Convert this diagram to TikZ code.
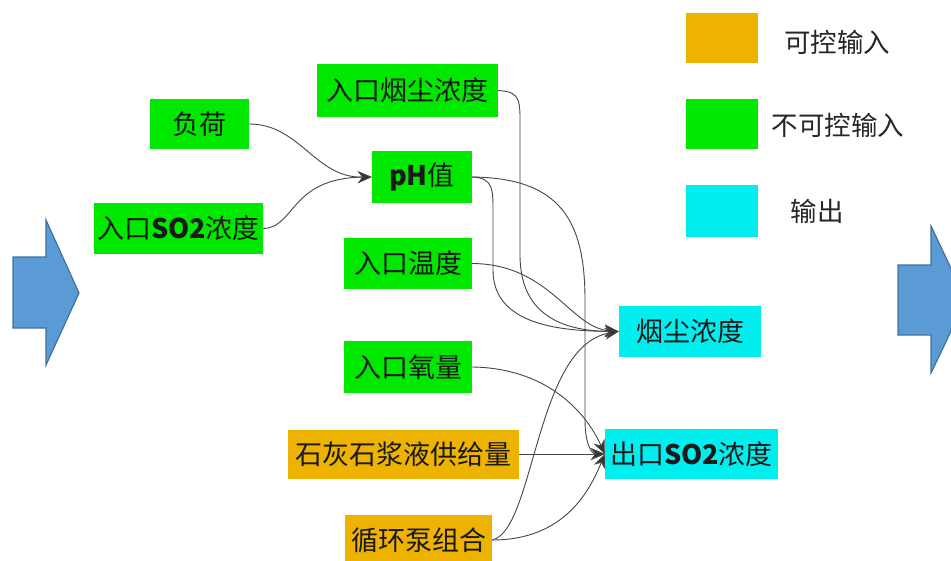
\documentclass[tikz,border=0pt]{standalone}
\usepackage{fontspec}
\setmainfont{Noto Sans CJK SC}
\usetikzlibrary{arrows.meta}
\definecolor{gin}{RGB}{0,232,0}
\definecolor{oin}{RGB}{238,178,0}
\definecolor{cout}{RGB}{0,238,238}
\definecolor{bluefill}{RGB}{91,155,213}
\definecolor{blueedge}{RGB}{65,113,156}
\definecolor{lnc}{RGB}{70,70,70}
\tikzset{
  box/.style={inner sep=0pt, text=black!90, font=\fontsize{27}{27}\selectfont},
  gbox/.style={box, fill=gin},
  obox/.style={box, fill=oin},
  cbox/.style={box, fill=cout},
  lbl/.style={inner sep=0pt, text=black!85, font=\fontsize{26.5}{26.5}\selectfont},
  conn/.style={draw=lnc, line width=0.9pt, -{Stealth[length=14pt,width=12pt,fill=black!80]}},
  bigarrow/.style={fill=bluefill, draw=blueedge, line width=1.2pt, line join=miter},
}
\begin{document}
\begin{tikzpicture}[x=1pt,y=-1pt]
\clip (0,0) rectangle (951,560);
\fill[white] (0,0) rectangle (951,560);
% big blue arrows
\draw[bigarrow] (13,257) -- (46,257) -- (46,220) -- (79,293) -- (46,365) -- (46,328) -- (13,328) -- cycle;
\draw[bigarrow] (898,265) -- (931,265) -- (931,226) -- (966,300) -- (931,373) -- (931,335) -- (898,335) -- cycle;
% legend
\node[obox, minimum width=72pt, minimum height=50pt] (lo) at (722,38) {};
\node[gbox, minimum width=72pt, minimum height=50pt] (lg) at (722,124) {};
\node[cbox, minimum width=72pt, minimum height=52pt] (lc) at (722,211) {};
\node[lbl] (tlo) at (837,42) {可控输入};
\node[lbl] (tlg) at (838,125) {不可控输入};
\node[lbl] (tlc) at (817,211) {输出};
% nodes
\node[gbox, minimum width=99pt, minimum height=50pt] (fh) at (199.5,124) {负荷};
\node[gbox, minimum width=169pt, minimum height=51pt] (so2in) at (178.5,228.5) {入口{\bfseries SO2}浓度};
\node[gbox, minimum width=181pt, minimum height=53pt] (dust) at (407.5,90.5) {入口烟尘浓度};
\node[gbox, minimum width=100pt, minimum height=52pt] (ph) at (422,177) {{\bfseries pH}值};
\node[gbox, minimum width=128pt, minimum height=51pt] (temp) at (408,263.5) {入口温度};
\node[gbox, minimum width=128pt, minimum height=52pt] (oxy) at (408,367) {入口氧量};
\node[obox, minimum width=231pt, minimum height=49pt] (lime) at (403.5,454) {石灰石浆液供给量};
\node[obox, minimum width=147pt, minimum height=50pt] (pump) at (418.5,540) {循环泵组合};
\node[cbox, minimum width=142pt, minimum height=51pt] (outdust) at (690,331.5) {烟尘浓度};
\node[cbox, minimum width=173pt, minimum height=50pt] (outso2) at (691.5,454) {出口{\bfseries SO2}浓度};
% connectors
\draw[conn] (fh.east) .. controls (300,124) and (315,178) .. (ph.west);
\draw[conn] (so2in.east) .. controls (295,228) and (290,178) .. (ph.west);
\draw[conn] (dust.east) .. controls (522,92) and (520,100) .. (520,135) -- (520,255) .. controls (520,320) and (570,331) .. (outdust.west);
\draw[conn] (ph.east) .. controls (494,178) and (493,190) .. (493,215) -- (493,270) .. controls (493,325) and (560,331) .. (outdust.west);
\draw[conn] (ph.east) .. controls (560,178) and (585,220) .. (585,300) -- (585,420) .. controls (585,445) and (592,454) .. (outso2.west);
\draw[conn] (temp.east) .. controls (550,264) and (570,328) .. (outdust.west);
\draw[conn] (oxy.east) .. controls (545,368) and (585,410) .. (outso2.west);
\draw[conn] (lime.east) -- (outso2.west);
\draw[conn] (pump.east) .. controls (535,530) and (535,345) .. (outdust.west);
\draw[conn] (pump.east) .. controls (565,540) and (590,490) .. (outso2.west);
\end{tikzpicture}
\end{document}
